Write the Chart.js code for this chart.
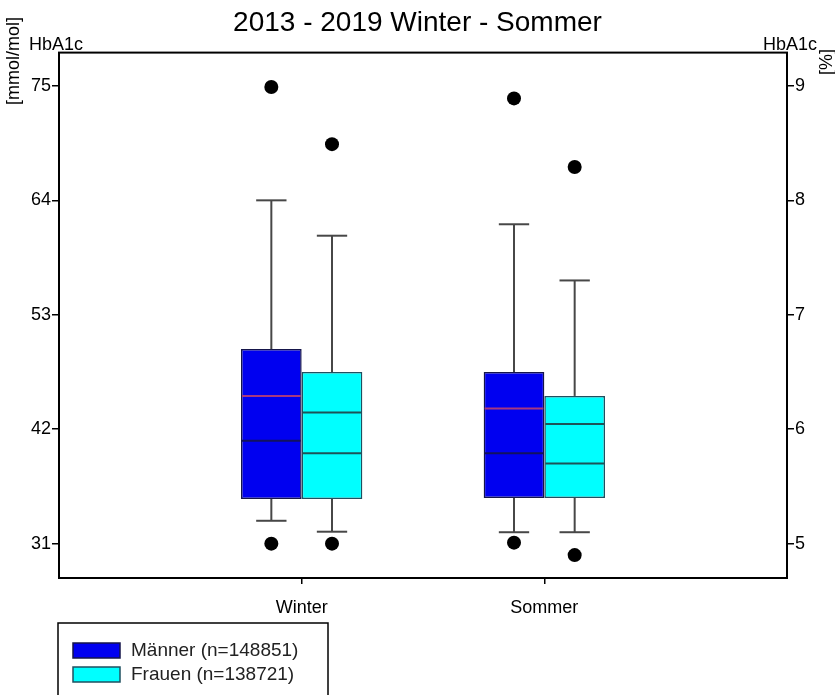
<!DOCTYPE html>
<html>
<head>
<meta charset="utf-8">
<script src="https://cdn.jsdelivr.net/npm/chart.js@4.4.1/dist/chart.umd.min.js"></script>
<style>
  body { margin: 0; background: #fff; }
  canvas { display: block; }
</style>
</head>
<body>
<canvas id="boxChart" width="835" height="695"></canvas>
<script>
const categories = ['Winter', 'Sommer'];
const seriesNames = ['Männer (n=148851)', 'Frauen (n=138721)'];

const maennerQ1 = [35.3, 35.4];
const maennerQ3 = [49.7, 47.5];
const maennerMedian = [40.9, 39.7];
const maennerMean = [45.2, 44.0];
const maennerWhiskerLow = [33.2, 32.1];
const maennerWhiskerHigh = [64.0, 61.7];
const maennerOutLow = [31.0, 31.1];
const maennerOutHigh = [74.9, 73.8];

const frauenQ1 = [35.3, 35.4];
const frauenQ3 = [47.5, 45.2];
const frauenMedian = [39.7, 38.7];
const frauenMean = [43.6, 42.5];
const frauenWhiskerLow = [32.15, 32.1];
const frauenWhiskerHigh = [60.6, 56.3];
const frauenOutLow = [31.0, 29.9];
const frauenOutHigh = [69.4, 67.2];

const leftTicks = [31, 42, 53, 64, 75];
const rightTicks = [5, 6, 7, 8, 9];
const leftMin = 27.7, leftMax = 78.2;

// right axis (%) is a linear mapping of the left one (mmol/mol), taken from the tick pairs
const slope = (rightTicks[4] - rightTicks[0]) / (leftTicks[4] - leftTicks[0]);
const toPercent = v => rightTicks[0] + (v - leftTicks[0]) * slope;

const FONT = '"Liberation Sans", Arial, sans-serif';
Chart.defaults.font.family = FONT;
Chart.defaults.color = '#000';

// empty slots at both ends so the two groups sit at 1/3 and 2/3 of the width
const labels = ['', ...categories, ''];
const pad = arr => [null, ...arr, null];

function boxData(q1, q3) {
    return pad(q1.map((v, i) => [v, q3[i]]));
}

const datasets = [
    {
        label: seriesNames[0],
        data: boxData(maennerQ1, maennerQ3),
        backgroundColor: '#0000f0',
        borderColor: '#15154a',
        medianColor: '#12125e',
        meanColor: '#a8387e',
        stats: { low: maennerWhiskerLow, high: maennerWhiskerHigh, median: maennerMedian, mean: maennerMean, outLow: maennerOutLow, outHigh: maennerOutHigh }
    },
    {
        label: seriesNames[1],
        data: boxData(frauenQ1, frauenQ3),
        backgroundColor: '#00ffff',
        borderColor: '#1f5060',
        medianColor: '#1d5458',
        meanColor: '#1d5458',
        stats: { low: frauenWhiskerLow, high: frauenWhiskerHigh, median: frauenMedian, mean: frauenMean, outLow: frauenOutLow, outHigh: frauenOutHigh }
    }
];
datasets.forEach(ds => {
    ds.borderWidth = 1.5;
    ds.borderSkipped = false;
    ds.categoryPercentage = 0.5;
    ds.barPercentage = 1.0;
});

function line(ctx, x1, y1, x2, y2) {
    ctx.beginPath();
    ctx.moveTo(x1, y1);
    ctx.lineTo(x2, y2);
    ctx.stroke();
}

const boxExtras = {
    id: 'boxExtras',
    afterDatasetsDraw(chart) {
        const ctx = chart.ctx;
        const yScale = chart.scales.y;
        const py = v => yScale.getPixelForValue(v);
        ctx.save();
        chart.data.datasets.forEach((ds, di) => {
            const meta = chart.getDatasetMeta(di);
            meta.data.forEach((bar, i) => {
                const k = i - 1;
                if (k < 0 || k >= categories.length) return;
                const s = ds.stats;
                const x = bar.x, w = bar.width;
                const q1 = ds.data[i][0], q3 = ds.data[i][1];

                // whiskers and caps
                ctx.strokeStyle = '#474747';
                ctx.lineWidth = 2;
                line(ctx, x, py(q3), x, py(s.high[k]));
                line(ctx, x - w / 4, py(s.high[k]), x + w / 4, py(s.high[k]));
                line(ctx, x, py(q1), x, py(s.low[k]));
                line(ctx, x - w / 4, py(s.low[k]), x + w / 4, py(s.low[k]));

                // median and mean
                ctx.lineWidth = 2;
                ctx.strokeStyle = ds.medianColor;
                line(ctx, x - w / 2 + 1, py(s.median[k]), x + w / 2 - 1, py(s.median[k]));
                ctx.strokeStyle = ds.meanColor;
                line(ctx, x - w / 2 + 1, py(s.mean[k]), x + w / 2 - 1, py(s.mean[k]));

                // outer points
                ctx.fillStyle = '#000';
                [s.outLow[k], s.outHigh[k]].forEach(v => {
                    ctx.beginPath();
                    ctx.arc(x, py(v), 7, 0, Math.PI * 2);
                    ctx.fill();
                });
            });
        });
        ctx.restore();
    }
};

const frameAndLegend = {
    id: 'frameAndLegend',
    afterDraw(chart) {
        const ctx = chart.ctx;
        const a = chart.chartArea;
        ctx.save();
        ctx.strokeStyle = '#000';
        ctx.lineWidth = 2;
        ctx.strokeRect(a.left, a.top, a.right - a.left, a.bottom - a.top);

        // axis names
        ctx.fillStyle = '#000';
        ctx.font = '18px ' + FONT;
        ctx.textBaseline = 'alphabetic';
        ctx.textAlign = 'left';
        ctx.fillText('HbA1c', a.left - 30, a.top - 3);
        ctx.textAlign = 'right';
        ctx.fillText('HbA1c', a.right + 30, a.top - 3);

        ctx.save();
        ctx.translate(19, 17);
        ctx.rotate(-Math.PI / 2);
        ctx.textAlign = 'right';
        ctx.fillText('[mmol/mol]', 0, 0);
        ctx.restore();

        ctx.save();
        ctx.translate(832, 49);
        ctx.rotate(-Math.PI / 2);
        ctx.textAlign = 'right';
        ctx.fillText('[%]', 0, 0);
        ctx.restore();

        // legend box
        const lx = a.left - 1, ly = 623;
        ctx.lineWidth = 1.5;
        ctx.strokeRect(lx, ly, 270, 80);
        ctx.font = '19px ' + FONT;
        ctx.textAlign = 'left';
        ctx.textBaseline = 'middle';
        chart.data.datasets.forEach((ds, i) => {
            const yy = ly + 20 + i * 24;
            ctx.fillStyle = ds.backgroundColor;
            ctx.fillRect(lx + 15, yy, 47, 15);
            ctx.strokeStyle = ds.borderColor;
            ctx.lineWidth = 1.5;
            ctx.strokeRect(lx + 15, yy, 47, 15);
            ctx.fillStyle = '#222';
            ctx.fillText(ds.label, lx + 73, yy + 8);
        });
        ctx.restore();
    }
};

const axisGrid = {
    drawOnChartArea: false,
    drawTicks: true,
    tickLength: 7,
    lineWidth: 1.5,
    color: '#000'
};

new Chart(document.getElementById('boxChart'), {
    type: 'bar',
    data: { labels: labels, datasets: datasets },
    options: {
        responsive: false,
        animation: false,
        layout: { padding: 0 },
        plugins: {
            legend: { display: false },
            tooltip: { enabled: false },
            title: {
                display: true,
                text: '2013 - 2019 Winter - Sommer',
                color: '#000',
                font: { size: 28, weight: 'normal' },
                padding: { top: 6, bottom: 13 }
            }
        },
        scales: {
            x: {
                type: 'category',
                offset: false,
                grid: {
                    offset: false,
                    drawOnChartArea: false,
                    drawTicks: true,
                    tickLength: 6,
                    lineWidth: 1.5,
                    color: c => (c.tick && c.tick.label) ? '#000' : 'rgba(0,0,0,0)'
                },
                border: { display: true, color: '#000', width: 2 },
                ticks: { font: { size: 18 }, padding: 13, autoSkip: false, maxRotation: 0, color: '#000' },
                afterFit: s => { s.height = 117; }
            },
            y: {
                position: 'left',
                min: leftMin,
                max: leftMax,
                afterBuildTicks: s => { s.ticks = leftTicks.map(v => ({ value: v })); },
                grid: axisGrid,
                border: { display: true, color: '#000', width: 2 },
                ticks: { font: { size: 18 }, padding: 1, color: '#000' },
                afterFit: s => { s.width = 59; }
            },
            y2: {
                position: 'right',
                min: toPercent(leftMin),
                max: toPercent(leftMax),
                afterBuildTicks: s => { s.ticks = rightTicks.map(v => ({ value: v })); },
                grid: axisGrid,
                border: { display: true, color: '#000', width: 2 },
                ticks: { font: { size: 18 }, padding: 1, color: '#000' },
                afterFit: s => { s.width = 48; }
            }
        }
    },
    plugins: [boxExtras, frameAndLegend]
});
</script>
</body>
</html>
